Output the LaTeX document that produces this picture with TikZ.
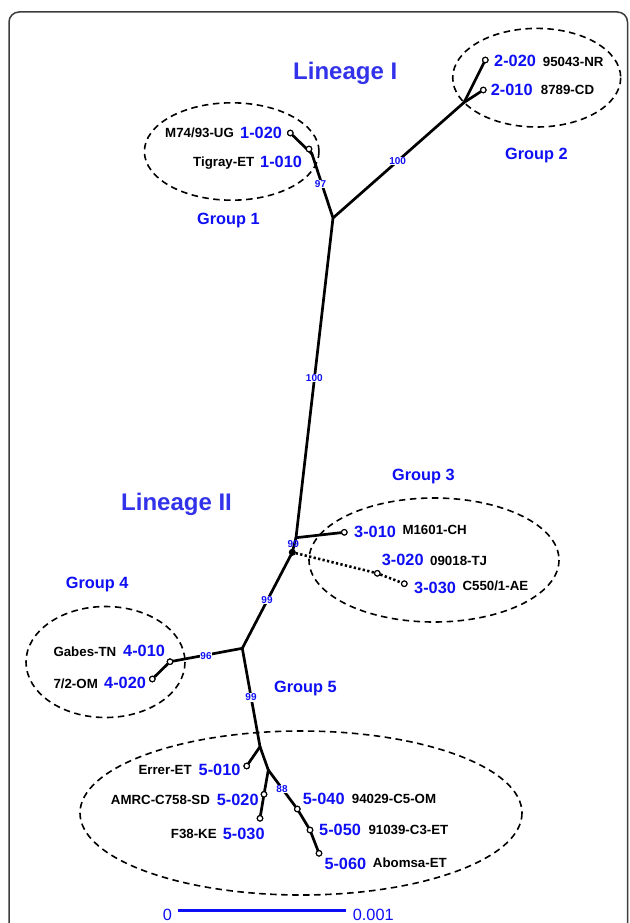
\documentclass[tikz,border=0pt]{standalone}
\usepackage{fontspec}
\setmainfont{Liberation Sans}
\definecolor{tblue}{RGB}{15,15,245}
\definecolor{lblue}{RGB}{50,50,235}
\definecolor{framegray}{RGB}{60,60,60}
\tikzset{
  branch/.style={line width=2.7pt, line cap=round},
  dotbranch/.style={line width=2.6pt, dash pattern=on 2.3pt off 2.3pt},
  tip/.style={circle, draw, fill=white, line width=1.1pt, inner sep=0pt, minimum size=5.5pt},
  solidtip/.style={circle, draw, fill=black, line width=1pt, inner sep=0pt, minimum size=6pt},
  grp/.style={line width=1.6pt, dash pattern=on 6.5pt off 4.5pt},
  code/.style={anchor=base west, inner sep=0pt, text=tblue, font=\fontsize{16.3}{18}\selectfont\bfseries},
  strain/.style={anchor=base west, inner sep=0pt, font=\fontsize{13.3}{15}\selectfont\bfseries},
  grplabel/.style={anchor=base west, inner sep=0pt, text=tblue, font=\fontsize{16.3}{18}\selectfont\bfseries},
  lineage/.style={anchor=base west, inner sep=0pt, text=lblue, font=\fontsize{24}{26}\selectfont\bfseries},
  boot/.style={fill=white, inner sep=0.6pt, text=tblue, font=\fontsize{10}{11}\selectfont\bfseries},
  scalelbl/.style={anchor=base west, inner sep=0pt, text=tblue, font=\fontsize{16.3}{18}\selectfont}
}
\begin{document}
\begin{tikzpicture}[x=1pt,y=-1pt]
\useasboundingbox (0,0) rectangle (629,923);
\clip (0,0) rectangle (629,923);
\fill[white] (0,0) rectangle (629,923);
% frame
\draw[framegray, line width=1.5pt, rounded corners=10pt] (9,945) -- (9,12) -- (627.5,12) -- (627.5,945);

% group ellipses
\draw[grp] (231.7,151.5) ellipse [x radius=87.3, y radius=48.7];
\draw[grp] (536.7,77.7) ellipse [x radius=84, y radius=49.3];
\draw[grp] (434,560) ellipse [x radius=125, y radius=62];
\draw[grp] (105.5,662) ellipse [x radius=79.5, y radius=55.5];
\draw[grp] (301,813) ellipse [x radius=221, y radius=82];

% internal nodes
\coordinate (A) at (333,218);
\coordinate (n1) at (312,154);
\coordinate (B) at (464,102.5);
\coordinate (C) at (296,537.7);
\coordinate (E) at (242.3,648.3);
\coordinate (G) at (260,746.7);
\coordinate (H) at (268.3,770);

% tips
\node[tip] (t1010) at (309,149) {};
\node[tip] (t1020) at (290.3,133) {};
\node[tip] (t2020) at (485.3,60) {};
\node[tip] (t2010) at (483.3,90) {};
\node[tip] (t3010) at (344.3,532.3) {};
\node[solidtip] (D) at (292.3,552.3) {};
\node[tip] (t3020) at (377.3,573.3) {};
\node[tip] (t3030) at (404.3,583.7) {};
\node[tip] (t4010) at (170,661.7) {};
\node[tip] (t4020) at (152.3,679) {};
\node[tip] (t5010) at (246.7,766) {};
\node[tip] (t5020) at (264,794.3) {};
\node[tip] (t5030) at (260,818.3) {};
\node[tip] (t5040) at (297.3,809) {};
\node[tip] (t5050) at (310,830) {};
\node[tip] (t5060) at (319,853.3) {};

% branches
\draw[branch] (A) -- (n1);
\draw[branch] (n1) -- (t1010);
\draw[branch] (n1) -- (t1020);
\draw[branch] (A) -- (B);
\draw[branch] (B) -- (t2020);
\draw[branch] (B) -- (t2010);
\draw[branch] (A) -- (C);
\draw[branch] (C) -- (t3010);
\draw[branch] (C) -- (D);
\draw[dotbranch] (D) -- (t3020);
\draw[dotbranch] (t3020) -- (t3030);
\draw[branch] (D) -- (E);
\draw[branch] (E) -- (t4010);
\draw[branch] (t4010) -- (t4020);
\draw[branch] (E) -- (G);
\draw[branch] (G) -- (t5010);
\draw[branch] (G) -- (H);
\draw[branch] (H) -- (t5020);
\draw[branch] (t5020) -- (t5030);
\draw[branch] (H) -- (t5040);
\draw[branch] (t5040) -- (t5050);
\draw[branch] (t5050) -- (t5060);

% redraw tips on top
\foreach \t/\p in {t1010/{(309,149)},t1020/{(290.3,133)},t2020/{(485.3,60)},t2010/{(483.3,90)},t3010/{(344.3,532.3)},t3020/{(377.3,573.3)},t3030/{(404.3,583.7)},t4010/{(170,661.7)},t4020/{(152.3,679)},t5010/{(246.7,766)},t5020/{(264,794.3)},t5030/{(260,818.3)},t5040/{(297.3,809)},t5050/{(310,830)},t5060/{(319,853.3)}}
  \node[tip] (\t x) at \p {};

% bootstrap values
\node[boot] (b97) at (320.5,184) {97};
\node[boot] (b100a) at (397.7,161) {100};
\node[boot] (b100b) at (314.3,378) {100};
\node[boot, fill=none] (b99a) at (293.3,544.5) {99};
\node[boot] (b99b) at (267,600) {99};
\node[boot] (b96) at (206,656) {96};
\node[boot] (b99c) at (251,697.5) {99};
\node[boot] (b88) at (282,789.3) {88};

% lineage labels
\node[lineage] (lin1) at (293,79.6) {Lineage I};
\node[lineage] (lin2) at (121,510.6) {Lineage II};

% group labels
\node[grplabel] (g1) at (197,224.5) {Group 1};
\node[grplabel] (g2) at (505,159) {Group 2};
\node[grplabel] (g3) at (392,480) {Group 3};
\node[grplabel] (g4) at (65.7,588.7) {Group 4};
\node[grplabel] (g5) at (274,692.7) {Group 5};

% group 1 labels
\node[strain] (s1020) at (165,137.7) {M74/93-UG};
\node[code] (c1020) at (240,138.8) {1-020};
\node[strain] (s1010) at (193,166.3) {Tigray-ET};
\node[code] (c1010) at (260,167.3) {1-010};
% group 2 labels
\node[code] (c2020) at (494,66.4) {2-020};
\node[strain] (s2020) at (542.7,66.3) {95043-NR};
\node[code] (c2010) at (490.7,95.7) {2-010};
\node[strain] (s2010) at (540.7,94.3) {8789-CD};
% group 3 labels
\node[code] (c3010) at (354,537.7) {3-010};
\node[strain] (s3010) at (402.3,534.7) {M1601-CH};
\node[code] (c3020) at (381.7,565.7) {3-020};
\node[strain] (s3020) at (430,565.3) {09018-TJ};
\node[code] (c3030) at (414,593.7) {3-030};
\node[strain] (s3030) at (462.3,590.3) {C550/1-AE};
% group 4 labels
\node[strain] (s4010) at (53.3,656) {Gabes-TN};
\node[code] (c4010) at (123,656.7) {4-010};
\node[strain] (s4020) at (53.3,688) {7/2-OM};
\node[code] (c4020) at (104,688.7) {4-020};
% group 5 labels
\node[strain] (s5010) at (138.3,774.7) {Errer-ET};
\node[code] (c5010) at (198.5,775.7) {5-010};
\node[strain] (s5020) at (110.7,804.7) {AMRC-C758-SD};
\node[code] (c5020) at (216.7,805.2) {5-020};
\node[strain] (s5030) at (170.7,838) {F38-KE};
\node[code] (c5030) at (222.7,839.7) {5-030};
\node[code] (c5040) at (302.7,804.7) {5-040};
\node[strain] (s5040) at (351.7,803) {94029-C5-OM};
\node[code] (c5050) at (319,835.7) {5-050};
\node[strain] (s5050) at (368.3,834.7) {91039-C3-ET};
\node[code] (c5060) at (324.3,869.7) {5-060};
\node[strain] (s5060) at (372.7,867) {Abomsa-ET};

% scale bar
\node[scalelbl] (sc0) at (162.7,920.3) {0};
\node[scalelbl] (sc1) at (352.7,920.3) {0.001};
\coordinate (sbl) at (178.3,910);
\coordinate (sbr) at (346,910);
\draw[tblue, line width=3pt] (sbl) -- (sbr);
\end{tikzpicture}
\end{document}
